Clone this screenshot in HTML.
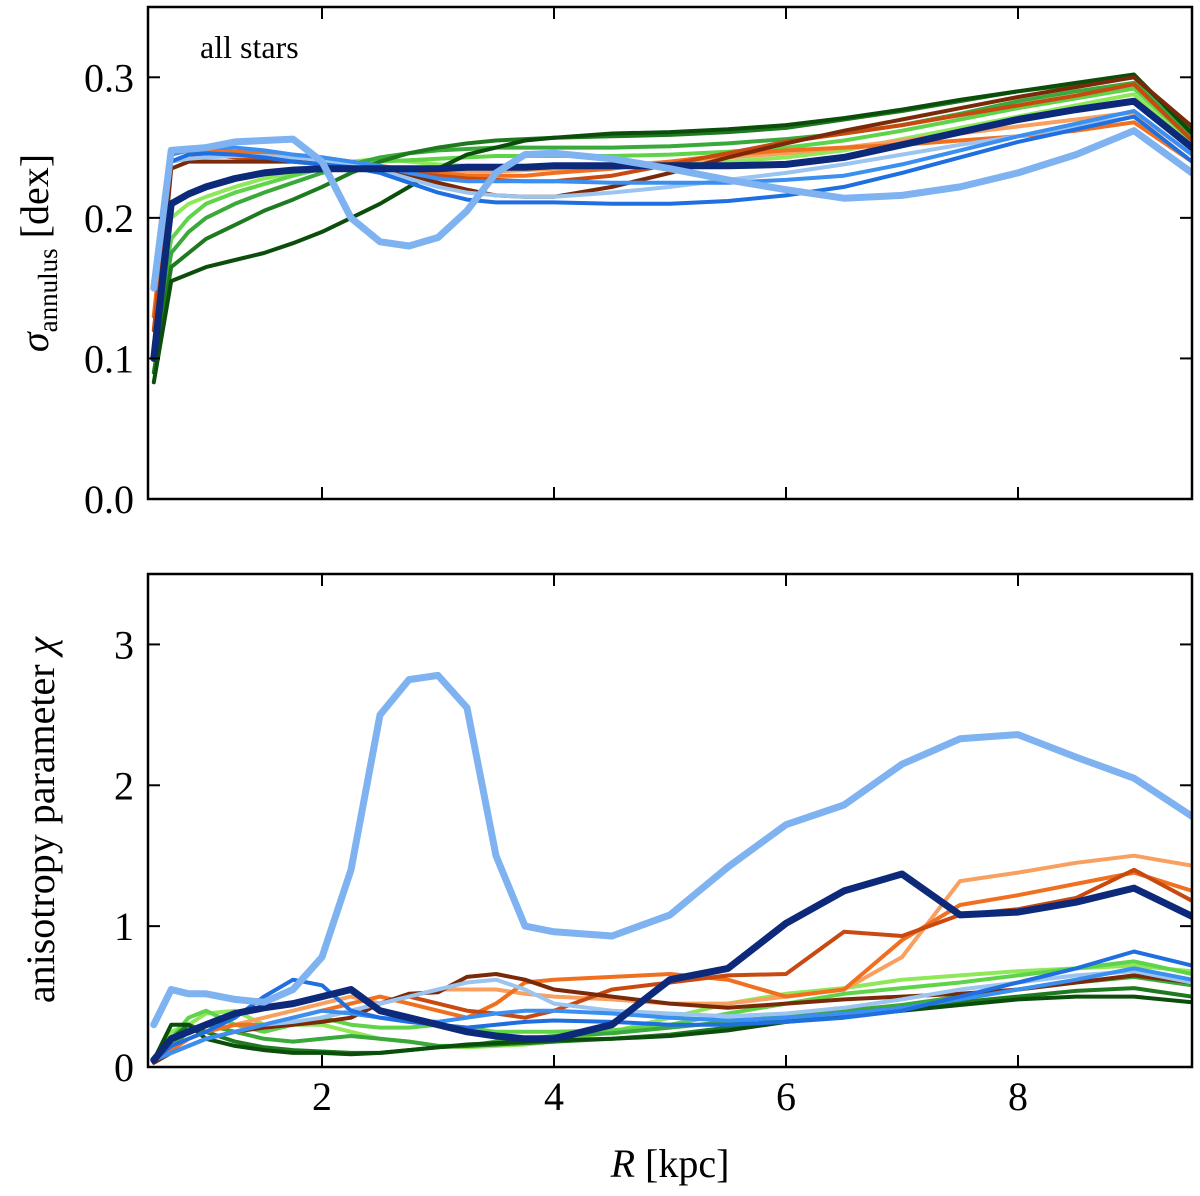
<!DOCTYPE html>
<html><head><meta charset="utf-8"><style>
html,body{margin:0;padding:0;background:#fff;}
svg{display:block;font-family:"Liberation Serif",serif;}
</style></head><body>
<svg id="chart" width="1200" height="1196" viewBox="0 0 1200 1196" xmlns="http://www.w3.org/2000/svg"></svg>
<script>
const R = [0.55,0.7,0.85,1.0,1.25,1.5,1.75,2.0,2.25,2.5,2.75,3.0,3.25,3.5,3.75,4.0,4.5,5.0,5.5,6.0,6.5,7.0,7.5,8.0,8.5,9.0,9.5];
const xTicks = [2,4,6,8];
const topTicks = [0.0,0.1,0.2,0.3];
const botTicks = [0,1,2,3];
const topNames = ["lightgreen","green4","green3","green2","darkgreen","lightorange","orange","darkorange","brown","lightblue-thin","blue2","blue","navy","lightblue-thick"];
const topColors = ["#8ee85a","#5fd34a","#3aa83a","#1f7a1f","#0b4d0b","#f8a060","#f07020","#c84a10","#7a2a08","#9cc4f0","#3a8ff0","#1f6fe0","#0d2a7a","#7fb2f0"];
const topWidths = [4,4,4,4,4,4,4,4,4,4,4,4,7,7];
const topVals = [
[0.12,0.2,0.21,0.215,0.222,0.228,0.232,0.236,0.24,0.242,0.24,0.238,0.237,0.237,0.237,0.237,0.237,0.238,0.24,0.243,0.248,0.256,0.264,0.272,0.28,0.288,0.252],
[0.11,0.185,0.2,0.21,0.218,0.224,0.23,0.235,0.238,0.24,0.241,0.242,0.243,0.244,0.244,0.244,0.244,0.245,0.247,0.25,0.255,0.262,0.27,0.278,0.285,0.292,0.255],
[0.1,0.175,0.19,0.2,0.21,0.218,0.225,0.232,0.238,0.243,0.246,0.248,0.249,0.25,0.25,0.25,0.25,0.251,0.253,0.256,0.26,0.266,0.274,0.283,0.29,0.296,0.258],
[0.09,0.165,0.175,0.185,0.195,0.205,0.213,0.222,0.232,0.24,0.246,0.25,0.253,0.255,0.256,0.257,0.258,0.259,0.261,0.264,0.27,0.276,0.283,0.29,0.295,0.3,0.262],
[0.083,0.155,0.16,0.165,0.17,0.175,0.182,0.19,0.2,0.21,0.222,0.235,0.245,0.25,0.255,0.257,0.26,0.261,0.263,0.266,0.271,0.277,0.284,0.29,0.296,0.302,0.26],
[0.13,0.24,0.245,0.245,0.244,0.243,0.242,0.24,0.238,0.236,0.234,0.233,0.233,0.233,0.234,0.235,0.237,0.24,0.243,0.246,0.25,0.255,0.26,0.265,0.27,0.275,0.245],
[0.13,0.245,0.248,0.248,0.247,0.246,0.245,0.243,0.24,0.237,0.234,0.232,0.23,0.23,0.23,0.232,0.235,0.24,0.245,0.248,0.25,0.252,0.255,0.258,0.262,0.268,0.24],
[0.12,0.24,0.245,0.245,0.243,0.242,0.24,0.238,0.236,0.234,0.232,0.23,0.228,0.227,0.226,0.226,0.23,0.238,0.246,0.254,0.26,0.266,0.273,0.28,0.287,0.295,0.255],
[0.1,0.235,0.24,0.24,0.24,0.24,0.24,0.24,0.238,0.235,0.23,0.225,0.22,0.216,0.215,0.215,0.222,0.232,0.243,0.253,0.262,0.27,0.278,0.286,0.293,0.3,0.265],
[0.15,0.24,0.242,0.243,0.244,0.244,0.243,0.241,0.238,0.234,0.228,0.222,0.218,0.216,0.215,0.215,0.218,0.222,0.227,0.232,0.238,0.245,0.252,0.258,0.265,0.272,0.24],
[0.15,0.245,0.248,0.25,0.25,0.248,0.245,0.243,0.24,0.237,0.232,0.228,0.226,0.226,0.226,0.226,0.225,0.225,0.225,0.227,0.23,0.238,0.248,0.258,0.267,0.276,0.245],
[0.15,0.24,0.245,0.246,0.245,0.243,0.24,0.238,0.236,0.232,0.225,0.218,0.213,0.211,0.211,0.211,0.21,0.21,0.212,0.216,0.222,0.232,0.243,0.254,0.263,0.272,0.24],
[0.1,0.21,0.217,0.222,0.228,0.232,0.234,0.235,0.235,0.235,0.235,0.235,0.236,0.236,0.236,0.237,0.237,0.237,0.237,0.238,0.243,0.252,0.261,0.27,0.277,0.283,0.25],
[0.15,0.248,0.249,0.25,0.254,0.255,0.256,0.24,0.2,0.183,0.18,0.186,0.205,0.232,0.245,0.246,0.242,0.235,0.227,0.22,0.214,0.216,0.222,0.232,0.245,0.262,0.232]
];
const botVals = [
[0.05,0.25,0.3,0.38,0.4,0.3,0.3,0.3,0.25,0.2,0.18,0.15,0.14,0.15,0.16,0.18,0.25,0.35,0.45,0.52,0.56,0.62,0.65,0.68,0.7,0.72,0.68],
[0.05,0.2,0.35,0.4,0.3,0.25,0.3,0.35,0.3,0.28,0.28,0.3,0.28,0.25,0.25,0.25,0.26,0.3,0.38,0.45,0.52,0.56,0.6,0.65,0.7,0.75,0.66],
[0.05,0.15,0.25,0.3,0.25,0.2,0.18,0.2,0.22,0.2,0.18,0.15,0.15,0.18,0.2,0.22,0.24,0.28,0.32,0.36,0.4,0.44,0.5,0.55,0.6,0.64,0.58],
[0.05,0.2,0.3,0.25,0.18,0.14,0.12,0.11,0.1,0.1,0.12,0.14,0.15,0.16,0.17,0.18,0.2,0.23,0.28,0.34,0.38,0.42,0.46,0.5,0.54,0.56,0.5],
[0.05,0.3,0.3,0.2,0.15,0.12,0.1,0.1,0.09,0.1,0.12,0.14,0.16,0.17,0.18,0.19,0.2,0.22,0.26,0.32,0.36,0.4,0.44,0.48,0.5,0.5,0.46],
[0.05,0.15,0.2,0.25,0.3,0.35,0.4,0.45,0.5,0.45,0.5,0.55,0.55,0.55,0.52,0.5,0.48,0.45,0.45,0.5,0.55,0.78,1.32,1.38,1.45,1.5,1.43],
[0.05,0.12,0.2,0.25,0.3,0.3,0.35,0.4,0.45,0.5,0.45,0.4,0.35,0.45,0.6,0.62,0.64,0.66,0.62,0.5,0.55,0.9,1.15,1.22,1.3,1.38,1.25],
[0.05,0.1,0.15,0.2,0.25,0.3,0.3,0.35,0.4,0.45,0.5,0.45,0.4,0.38,0.35,0.4,0.55,0.6,0.65,0.66,0.96,0.93,1.08,1.12,1.2,1.4,1.18],
[0.03,0.1,0.15,0.2,0.25,0.28,0.3,0.32,0.35,0.45,0.52,0.53,0.64,0.66,0.62,0.55,0.5,0.45,0.42,0.45,0.48,0.5,0.52,0.55,0.6,0.65,0.6],
[0.05,0.1,0.15,0.2,0.25,0.3,0.32,0.35,0.4,0.45,0.5,0.55,0.6,0.62,0.55,0.45,0.4,0.38,0.36,0.38,0.42,0.48,0.55,0.6,0.65,0.68,0.6],
[0.05,0.1,0.15,0.2,0.25,0.3,0.35,0.4,0.38,0.35,0.33,0.32,0.35,0.38,0.4,0.4,0.38,0.35,0.33,0.35,0.38,0.42,0.48,0.55,0.62,0.7,0.62],
[0.05,0.15,0.2,0.25,0.35,0.5,0.62,0.58,0.4,0.35,0.32,0.3,0.28,0.3,0.32,0.33,0.32,0.3,0.3,0.32,0.35,0.4,0.5,0.6,0.7,0.82,0.72],
[0.05,0.2,0.25,0.3,0.38,0.42,0.45,0.5,0.55,0.4,0.35,0.3,0.25,0.22,0.2,0.2,0.3,0.62,0.7,1.02,1.25,1.37,1.08,1.1,1.17,1.27,1.07],
[0.3,0.55,0.52,0.52,0.48,0.46,0.55,0.78,1.4,2.5,2.75,2.78,2.55,1.5,1.0,0.96,0.93,1.08,1.42,1.72,1.86,2.15,2.33,2.36,2.2,2.05,1.78]
];
const svg = document.getElementById('chart');
const NS = "http://www.w3.org/2000/svg";
const X0=148, X1=1192;
function xs(v){return X0+(v-0.5)/9*(X1-X0);}
function mk(tag, attrs, parent){const e=document.createElementNS(NS,tag);for(const k in attrs)e.setAttribute(k,attrs[k]);(parent||svg).appendChild(e);return e;}
function panel(name, top, bot, ymax, ticks, fmt, vals){
  const ys = v => bot-(v/ymax)*(bot-top);
  const g = mk('g',{});
  
  
  const cp = mk('clipPath',{id:'clip-'+name},g);
  mk('rect',{x:X0,y:top,width:X1-X0,height:bot-top},cp);
  const lines = mk('g',{'clip-path':'url(#clip-'+name+')'},g);
  vals.forEach((s,i)=>{
    const d = s.map((v,j)=>(j?'L':'M')+xs(R[j]).toFixed(1)+' '+ys(v).toFixed(1)).join(' ');
    const p = mk('path',{d:d,fill:'none',stroke:topColors[i],'stroke-width':topWidths[i],'stroke-linejoin':'round','stroke-linecap':'round'},lines);
    
    
  });
  mk('rect',{x:X0,y:top,width:X1-X0,height:bot-top,fill:'none',stroke:'#000','stroke-width':2.5},g);
  xTicks.forEach(t=>{
    const x=xs(t);
    mk('line',{x1:x,x2:x,y1:bot,y2:bot-12,stroke:'#000','stroke-width':2},g);
    mk('line',{x1:x,x2:x,y1:top,y2:top+12,stroke:'#000','stroke-width':2},g);
  });
  ticks.forEach(t=>{
    const y=ys(t);
    mk('line',{x1:X0,x2:X0+12,y1:y,y2:y,stroke:'#000','stroke-width':2},g);
    mk('line',{x1:X1,x2:X1-12,y1:y,y2:y,stroke:'#000','stroke-width':2},g);
    const tx = mk('text',{x:134,y:y+14,'text-anchor':'end','font-size':40},g);
    tx.textContent = fmt(t);
    
    
  });
  return g;
}
panel('top-panel',7,499,0.35,topTicks,t=>t.toFixed(1),topVals);
panel('bottom-panel',574,1067,3.5,botTicks,t=>String(t),botVals);
xTicks.forEach(t=>{
  const tx = mk('text',{x:xs(t),y:1110,'text-anchor':'middle','font-size':40});
  tx.textContent = String(t);
  
  
});
</script>
<svg style="position:absolute;left:0;top:0" width="1200" height="1196" xmlns="http://www.w3.org/2000/svg" font-family="Liberation Serif, serif">
  <text x="200" y="58" font-size="32">all stars</text>
  <text transform="translate(48,253) rotate(-90)" text-anchor="middle" font-size="40"><tspan font-style="italic">σ</tspan><tspan font-size="27" dy="9">annulus</tspan><tspan dy="-9"> [dex]</tspan></text>
  <text transform="translate(54,820) rotate(-90)" text-anchor="middle" font-size="40">anisotropy parameter <tspan font-style="italic">χ</tspan></text>
  <text x="670" y="1177" text-anchor="middle" font-size="40"><tspan font-style="italic">R</tspan> [kpc]</text>
</svg>
</body></html>
